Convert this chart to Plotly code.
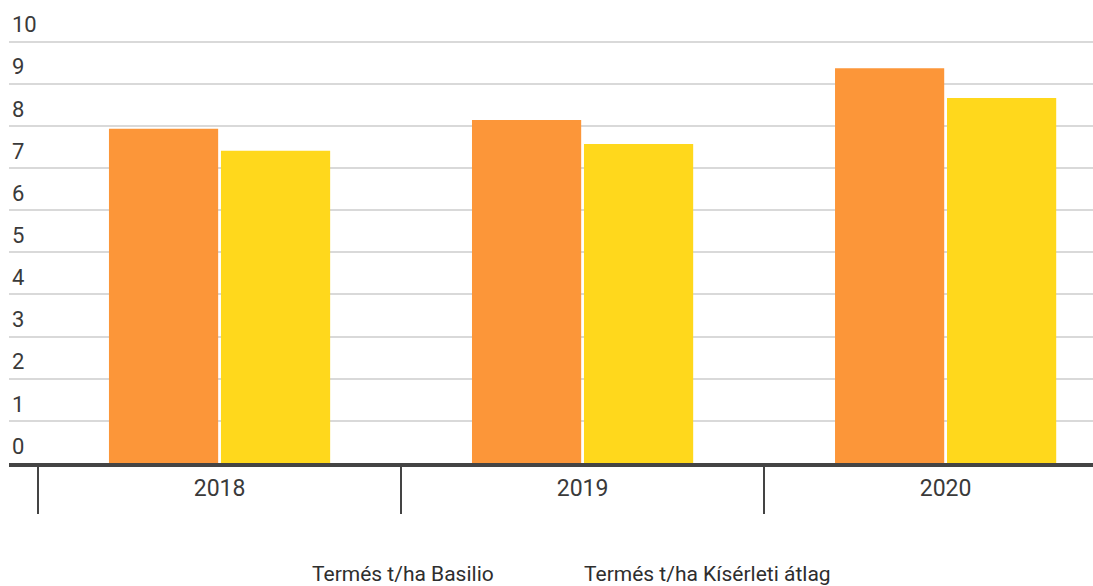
import plotly.graph_objects as go

years = ["2018", "2019", "2020"]
basilio = [7.93, 8.14, 9.37]
atlag = [7.41, 7.57, 8.66]
series_names = ["Termés t/ha Basilio", "Termés t/ha Kísérleti átlag"]
colors = ["#FC9639", "#FFD81C"]
y_ticks = list(range(0, 11))

FONT = "Roboto"
TXT = "#3a3a3a"

fig = go.Figure()
fig.add_trace(go.Bar(x=years, y=basilio, name=series_names[0], marker_color=colors[0],
                     marker_line_width=0, showlegend=False))
fig.add_trace(go.Bar(x=years, y=atlag, name=series_names[1], marker_color=colors[1],
                     marker_line_width=0, showlegend=False))

fig.update_layout(
    width=1093, height=586,
    margin=dict(l=9, r=0, t=10, b=122.5),
    paper_bgcolor="white", plot_bgcolor="white",
    barmode="group", bargap=0.383, bargroupgap=0.025,
    font=dict(family=FONT, size=22, color=TXT),
    xaxis=dict(
        type="category", range=[-0.58, 2.406],
        showgrid=False, showline=True, linecolor="#444444", linewidth=4,
        ticks="", ticklabelstandoff=1,
        tickfont=dict(family=FONT, size=23, color=TXT),
        zeroline=False,
    ),
    xaxis2=dict(
        overlaying="x", anchor="y", side="bottom", type="linear",
        range=[-0.58, 2.406], tickmode="array", tickvals=[-0.5, 0.5, 1.5],
        ticks="outside", ticklen=50, tickwidth=2, tickcolor="#444444",
        showticklabels=False, showgrid=False, showline=False, zeroline=False,
    ),
    yaxis=dict(
        range=[0, 10.75], tickmode="array", tickvals=y_ticks,
        ticktext=[str(v) for v in y_ticks],
        showgrid=True, gridcolor="#D9D9D9", gridwidth=2,
        zeroline=False, showline=False, ticks="",
        ticklabelposition="inside", ticklabelshift=-17,
        tickfont=dict(family=FONT, size=22, color=TXT),
    ),
)
# invisible helper trace to activate xaxis2
fig.add_trace(go.Scatter(x=[-0.5], y=[None], xaxis="x2", yaxis="y", showlegend=False,
                         hoverinfo="skip", mode="markers"))

# legend (text only, as in the reference)
for name, px in zip(series_names, [310, 582]):
    fig.add_annotation(text=name, xref="paper", yref="paper", x=(px - 9) / 1084,
                       y=-(575 - 463.5) / 453.5, xanchor="left", yanchor="middle",
                       showarrow=False,
                       font=dict(family=FONT, size=21, color="#2e2e2e"))

fig.write_html("out.html", config={"displayModeBar": False},
               post_script="document.body.style.margin='0';document.body.style.overflow='hidden';")
